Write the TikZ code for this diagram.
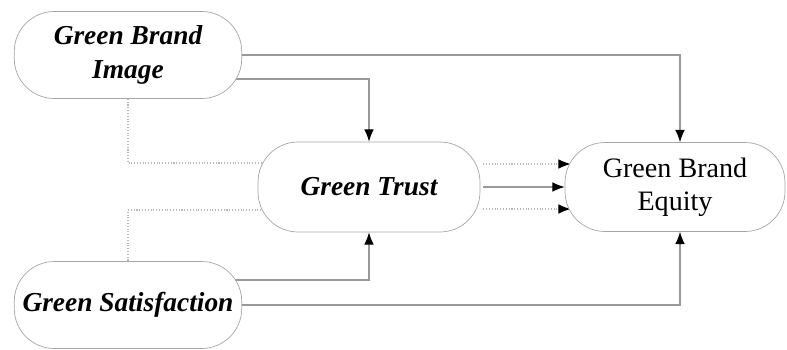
\documentclass[tikz,border=0pt]{standalone}
\usepackage{fontspec}
\setmainfont{Liberation Serif}
\usetikzlibrary{calc, positioning, backgrounds}
\usetikzlibrary{arrows.meta}
\tikzset{
  font=\fontsize{16}{19}\selectfont,
  % Set arrowhead
  >={Latex[length=7pt, width=5.5pt, color=black]},
  % Construct node
  cnode/.style={draw=gray!70, fill=white, rounded corners=0.8cm, align=center,
    minimum width=4.55cm, minimum height=1.74cm, inner sep=2pt},
  % Italic construct node
  inode/.style={cnode, font=\fontsize{15.6}{19}\selectfont\bfseries\itshape},
  % Connectors
  solidlink/.style={draw=gray!80, line width=0.6pt},
  dotlink/.style={draw=gray!55, line width=0.6pt, densely dotted},
}
\begin{document}
\begin{tikzpicture}[x=0.02cm, y=-0.02cm]
  \useasboundingbox (0,0) rectangle (787,349);

  \node[inode] (gbi) at (128,55) {Green Brand\\Image};
  \node[inode, minimum width=4.44cm, minimum height=1.8cm] (gt) at (369,187) {Green Trust};
  \node[cnode, minimum width=4.4cm, minimum height=1.78cm] (gbe) at (675,187) {Green Brand\\Equity};
  \node[inode] (gs) at (128,305) {Green Satisfaction};

  \begin{scope}[on background layer]
    % image paths
    \draw[solidlink, ->] (gbi.east) -| ($(gbe.north)+(5,0)$);
    \draw[solidlink, ->] ($(gbi.east)+(-10,24)$) -| (gt.north);
    \draw[dotlink] (gbi.south) |- ($(gt.west)+(12,-24)$);
    % satisfaction paths
    \draw[dotlink] ($(gt.west)+(12,23)$) -| (gs.north);
    \draw[solidlink, ->] ($(gs.east)+(-10,-25)$) -| (gt.south);
    \draw[solidlink, ->] (gs.east) -| ($(gbe.south)+(5,0)$);
    % trust to equity
    \draw[dotlink, ->] ($(gt.east)+(3,-23)$) -- ($(gbe.west)+(6,-23)$);
    \draw[solidlink, ->] ($(gt.east)+(3,0)$) -- ($(gbe.west)+(0,0)$);
    \draw[dotlink, ->] ($(gt.east)+(3,22)$) -- ($(gbe.west)+(6,22)$);
  \end{scope}
\end{tikzpicture}
\end{document}
